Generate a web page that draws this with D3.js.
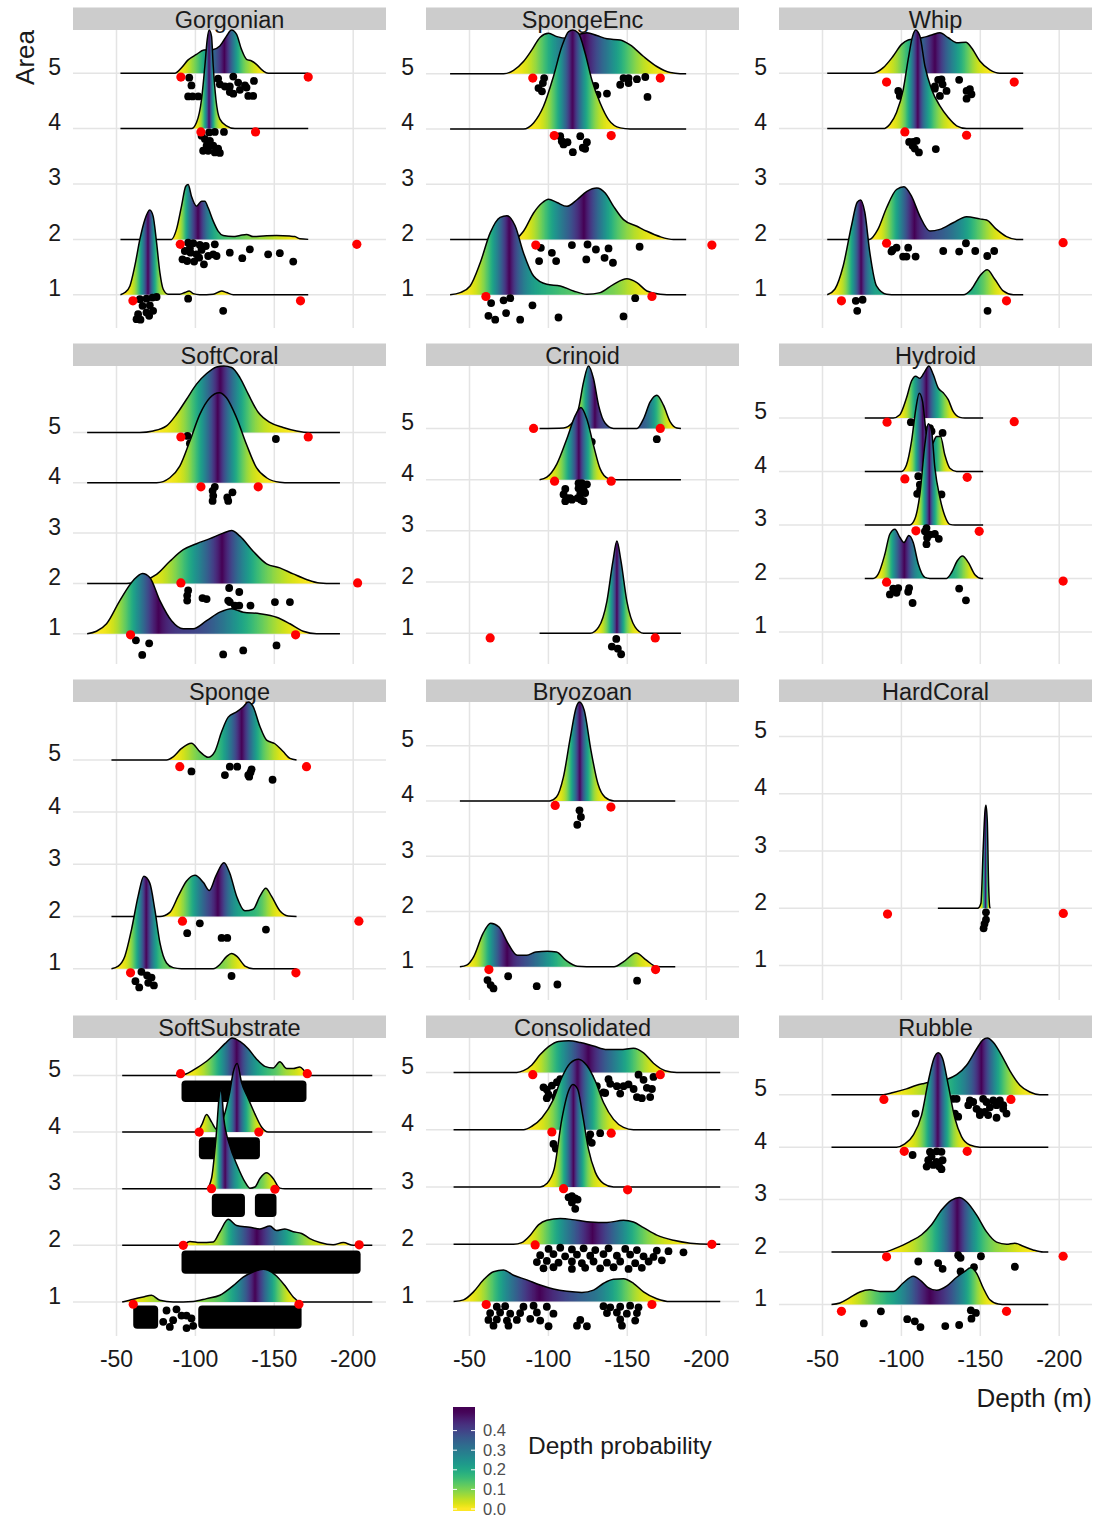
<!DOCTYPE html>
<html><head><meta charset="utf-8">
<script src="https://cdn.jsdelivr.net/npm/d3@7"></script>
<style>body{margin:0;background:#fff;} svg text{font-family:"Liberation Sans",Arial,sans-serif;}</style>
</head><body><svg id="chart" width="1107" height="1519"></svg>
<script>
const categories = ["Gorgonian","SpongeEnc","Whip","SoftCoral","Crinoid","Hydroid","Sponge","Bryozoan","HardCoral","SoftSubstrate","Consolidated","Rubble"];
const areaLevels = [1,2,3,4,5];
const depthTicks = [-50,-100,-150,-200];
const probTicks = [0,0.1,0.2,0.3,0.4];

// ---- Gorgonian ----
const gorgonianRange = [-52.5,-171.5];
const gorgonianRidges = [
 [5,[[-87.0,0],[-91.2,0.10],[-95.4,0.24],[-100.7,0.34],[-105.4,0.42],[-111.3,0.43],[-115.5,0.49],[-119.7,0.67],[-122.9,0.78],[-126.1,0.70],[-129.2,0.43],[-132.4,0.25],[-135.6,0.22],[-138.7,0.16],[-143.0,0.04],[-146.1,0]]],
 [4,[[-97.5,0],[-100.7,0.11],[-103.9,0.53],[-106.0,1.13],[-107.5,1.61],[-108.7,1.78],[-110.2,1.67],[-111.3,1.13],[-113.0,0.53],[-115.5,0.17],[-119.7,0.05],[-125.0,0]]],
 [2,[[-84.9,0],[-88.0,0.18],[-91.2,0.60],[-93.9,0.96],[-95.4,0.99],[-97.5,0.78],[-100.7,0.60],[-103.9,0.69],[-106.0,0.69],[-108.1,0.57],[-111.3,0.33],[-114.4,0.15],[-117.6,0.07],[-123.9,0.05],[-128.2,0.07],[-132.4,0.09],[-136.6,0.05],[-143.0,0.06],[-151.4,0.07],[-159.9,0.06],[-163.0,0.05],[-166.2,0.01]]],
 [1,[[-55.3,0.04],[-58.5,0.16],[-61.6,0.52],[-64.8,1.00],[-68.0,1.36],[-71.1,1.53],[-73.2,1.42],[-75.4,0.94],[-77.5,0.40],[-79.6,0.10],[-82.7,0.01],[-90.1,0.01],[-93.3,0.04],[-96.1,0.07],[-98.6,0.02],[-102.8,0],[-111.3,0.01],[-116.6,0.07],[-119.7,0.04],[-124.0,0]]]
];
const gorgonianRed = [[-90.8,4.93],[-171.5,4.93],[-103.5,3.94],[-138.1,3.94],[-90.4,1.91],[-202.3,1.91],[-60.4,0.89],[-166.6,0.89]];
const gorgonianObs = [[-96.1,4.92],[-97.5,4.78],[-95.4,4.58],[-98.2,4.58],[-101.8,4.58],[-114.4,4.90],[-115.5,4.80],[-118.7,4.76],[-121.8,4.76],[-124.0,4.94],[-127.1,4.83],[-124.0,4.63],[-121.8,4.66],[-128.2,4.70],[-133.5,4.59],[-136.6,4.59],[-137.1,4.86],[-132.4,4.74],[-131.4,4.78],
 [-103.9,3.87],[-108.7,3.93],[-112.3,3.94],[-118.1,3.94],[-106.0,3.81],[-109.2,3.78],[-107.1,3.69],[-111.3,3.69],[-104.9,3.60],[-108.1,3.60],[-112.3,3.57],[-115.5,3.56],[-114.4,3.64],
 [-95.4,1.94],[-98.6,1.93],[-102.8,1.90],[-106.6,1.88],[-112.3,1.91],[-93.3,1.79],[-96.9,1.76],[-100.7,1.73],[-103.9,1.81],[-108.1,1.70],[-113.4,1.70],[-91.8,1.64],[-94.8,1.61],[-99.2,1.60],[-105.4,1.55],[-111.3,1.73],[-121.8,1.76],[-129.7,1.66],[-134.5,1.82],[-146.1,1.73],[-153.5,1.75],[-162.0,1.60],[-102.4,1.67],[-96.5,1.84],
 [-64.8,0.92],[-69.0,0.93],[-72.8,0.95],[-75.4,0.96],[-66.5,0.80],[-71.1,0.81],[-63.7,0.65],[-69.0,0.68],[-73.2,0.71],[-62.7,0.56],[-65.2,0.55],[-70.7,0.62],[-95.4,0.93],[-117.6,0.71]];

// ---- SpongeEnc ----
const spongeEncRange = [-37.7,-187.3];
const spongeEncRidges = [
 [5,[[-71.6,0],[-77.9,0.06],[-84.2,0.22],[-89.5,0.43],[-94.8,0.66],[-100.1,0.73],[-105.4,0.67],[-111.7,0.64],[-118.1,0.70],[-124.4,0.74],[-130.7,0.69],[-137.1,0.63],[-145.5,0.61],[-151.8,0.52],[-160.3,0.31],[-168.7,0.13],[-177.2,0.02],[-183.5,0]]],
 [4,[[-84.2,0],[-90.6,0.11],[-96.9,0.41],[-103.2,0.95],[-108.5,1.49],[-112.8,1.76],[-115.5,1.79],[-119.1,1.73],[-123.3,1.37],[-127.5,0.89],[-132.8,0.47],[-138.1,0.17],[-145.5,0.02],[-151.8,0]]],
 [2,[[-77.9,0],[-84.2,0.15],[-90.6,0.48],[-95.9,0.66],[-100.1,0.73],[-105.4,0.67],[-111.7,0.60],[-118.1,0.72],[-124.4,0.87],[-130.7,0.93],[-136.0,0.84],[-141.3,0.60],[-147.6,0.36],[-156.1,0.24],[-162.4,0.15],[-170.9,0.05],[-179.3,0]]],
 [1,[[-44.1,0.04],[-50.4,0.16],[-56.8,0.58],[-63.1,1.12],[-69.4,1.40],[-73.7,1.43],[-78.9,1.25],[-84.2,0.76],[-90.6,0.34],[-99.0,0.19],[-107.5,0.16],[-115.9,0.07],[-124.4,0.01],[-132.8,0.04],[-141.3,0.19],[-149.7,0.29],[-156.1,0.22],[-162.4,0.07],[-170.9,0.01],[-179.3,0]]]
];
const spongeEncRed = [[-90.1,4.92],[-170.9,4.92],[-103.7,3.88],[-139.8,3.88],[-92.0,1.90],[-203.6,1.90],[-60.4,0.97],[-165.6,0.97]];
const spongeEncObs = [[-97.3,4.92],[-96.5,4.83],[-93.7,4.74],[-95.9,4.68],[-129.7,4.78],[-131.1,4.62],[-137.1,4.64],[-145.5,4.80],[-147.6,4.92],[-150.8,4.92],[-150.8,4.83],[-156.1,4.90],[-161.4,4.94],[-162.8,4.58],
 [-107.5,3.87],[-108.5,3.78],[-109.6,3.72],[-112.1,3.76],[-115.5,3.58],[-120.2,3.87],[-121.8,3.66],[-124.4,3.76],[-123.3,3.64],
 [-95.2,1.85],[-102.2,1.76],[-94.1,1.61],[-104.9,1.61],[-114.9,1.90],[-124.8,1.91],[-130.1,1.82],[-138.1,1.84],[-124.0,1.64],[-135.6,1.67],[-140.9,1.58],[-157.8,1.87],
 [-63.7,0.85],[-71.6,0.90],[-75.8,0.94],[-62.0,0.62],[-66.3,0.55],[-73.2,0.67],[-82.1,0.55],[-89.9,0.81],[-106.4,0.59],[-147.6,0.61],[-155.0,0.94]];

// ---- Whip ----
const whipRange = [-53.0,-177.2];
const whipRidges = [
 [5,[[-82.1,0],[-88.5,0.10],[-94.8,0.31],[-100.1,0.52],[-104.3,0.60],[-109.0,0.62],[-113.0,0.64],[-115.9,0.66],[-120.0,0.70],[-124.4,0.73],[-129.7,0.64],[-135.0,0.55],[-140.9,0.56],[-144.4,0.46],[-149.7,0.22],[-156.1,0.06],[-162.4,0]]],
 [4,[[-88.5,0],[-92.7,0.08],[-96.9,0.29],[-101.2,0.71],[-104.3,1.25],[-107.1,1.67],[-109.0,1.78],[-111.7,1.67],[-114.9,1.13],[-119.1,0.71],[-124.4,0.41],[-129.7,0.20],[-135.0,0.05],[-141.3,0]]],
 [2,[[-79.8,0],[-85.1,0.18],[-90.6,0.57],[-96.9,0.90],[-101.6,0.95],[-106.4,0.78],[-111.7,0.42],[-118.1,0.15],[-124.4,0.18],[-132.8,0.30],[-141.3,0.41],[-149.7,0.37],[-154.0,0.35],[-160.3,0.18],[-166.6,0.05],[-173.0,0]]],
 [1,[[-57.8,0.10],[-63.1,0.52],[-68.4,1.25],[-72.0,1.67],[-74.1,1.71],[-76.8,1.49],[-80.0,0.76],[-84.2,0.16],[-90.6,0.01],[-96.9,0],[-139.2,0],[-144.4,0.10],[-149.7,0.34],[-154.4,0.45],[-159.2,0.28],[-164.5,0.07],[-170.9,0]]]
];
const whipRed = [[-90.6,4.84],[-171.5,4.84],[-102.2,3.94],[-141.3,3.88],[-90.6,1.93],[-202.5,1.94],[-62.0,0.89],[-166.6,0.89]];
const whipObs = [[-98.0,4.68],[-99.0,4.59],[-121.2,4.72],[-123.3,4.88],[-125.4,4.89],[-126.1,4.80],[-128.6,4.68],[-124.4,4.59],[-136.6,4.88],[-141.3,4.68],[-143.4,4.71],[-144.4,4.62],[-141.3,4.54],[-121.2,4.76],
 [-104.9,3.76],[-107.5,3.76],[-109.6,3.78],[-107.1,3.69],[-108.5,3.64],[-111.1,3.57],[-121.8,3.63],
 [-94.4,1.81],[-96.9,1.85],[-104.3,1.85],[-93.7,1.78],[-101.1,1.69],[-103.2,1.69],[-109.0,1.69],[-126.5,1.79],[-136.6,1.78],[-140.9,1.93],[-146.8,1.79],[-154.4,1.70],[-158.8,1.79],
 [-71.1,0.89],[-75.4,0.91],[-72.0,0.71],[-154.6,0.71]];

// ---- SoftCoral ----
const softCoralRange = [-31.4,-191.6];
const softCoralRidges = [
 [5,[[-64.8,0],[-73.2,0.03],[-81.7,0.13],[-88.0,0.36],[-94.4,0.66],[-100.7,0.96],[-107.1,1.17],[-113.4,1.30],[-118.0,1.32],[-122.9,1.29],[-128.2,1.09],[-133.5,0.76],[-139.8,0.40],[-147.2,0.20],[-155.6,0.10],[-164.1,0.03],[-172.5,0]]],
 [4,[[-75.4,0],[-83.8,0.10],[-90.1,0.33],[-96.5,0.83],[-102.8,1.36],[-109.2,1.69],[-115.1,1.79],[-119.7,1.69],[-126.1,1.29],[-132.4,0.76],[-138.7,0.30],[-145.1,0.10],[-153.5,0.01],[-159.9,0]]],
 [2,[[-56.3,0],[-66.9,0.05],[-75.4,0.18],[-83.8,0.44],[-92.3,0.67],[-100.7,0.79],[-109.2,0.89],[-117.6,1.00],[-122.9,1.05],[-128.2,0.94],[-136.6,0.64],[-145.1,0.39],[-153.5,0.31],[-162.0,0.19],[-170.4,0.08],[-178.8,0.01],[-187.3,0]]],
 [1,[[-37.3,0.05],[-43.7,0.20],[-52.1,0.66],[-60.6,1.06],[-66.5,1.20],[-71.1,1.12],[-77.5,0.66],[-84.9,0.26],[-92.3,0.10],[-98.6,0.10],[-107.1,0.26],[-115.5,0.43],[-122.9,0.50],[-130.3,0.43],[-140.9,0.40],[-151.4,0.33],[-159.9,0.20],[-168.3,0.05],[-176.8,0]]]
];
const softCoralRed = [[-90.8,4.91],[-171.5,4.91],[-103.5,3.92],[-139.8,3.92],[-90.8,2.01],[-202.8,2.01],[-58.9,0.98],[-163.5,0.98]];
const softCoralObs = [[-95.0,4.93],[-96.5,4.78],[-97.5,4.74],[-151.0,4.87],
 [-112.3,3.92],[-110.9,3.84],[-111.3,3.74],[-110.9,3.64],[-120.8,3.64],[-123.5,3.81],[-120.2,3.71],
 [-95.4,1.86],[-94.8,1.76],[-94.8,1.66],[-104.5,1.71],[-107.1,1.69],[-121.4,1.91],[-127.8,1.83],[-120.8,1.66],[-121.8,1.63],[-125.0,1.56],[-127.8,1.56],[-134.9,1.56],[-150.4,1.63],[-159.9,1.63],
 [-62.3,0.87],[-70.7,0.81],[-66.3,0.58],[-117.6,0.59],[-130.3,0.67],[-151.4,0.77]];

// ---- Crinoid ----
const crinoidRange = [-94.4,-184.0];
const crinoidRidges = [
 [5,[[-109.6,0.01],[-114.9,0.10],[-119.1,0.39],[-122.3,0.91],[-125.4,1.22],[-128.6,0.97],[-131.8,0.45],[-136.0,0.10],[-141.3,0],[-156.1,0],[-160.3,0.19],[-164.5,0.52],[-168.7,0.65],[-173.0,0.45],[-177.2,0.13],[-181.4,0.01]]],
 [4,[[-99.0,0.05],[-105.4,0.31],[-111.7,0.80],[-117.0,1.25],[-120.6,1.41],[-124.4,1.18],[-128.6,0.67],[-132.8,0.21],[-138.1,0.02],[-143.4,0]]],
 [1,[[-126.5,0],[-131.8,0.12],[-137.1,0.63],[-140.9,1.41],[-143.4,1.80],[-146.0,1.41],[-149.7,0.63],[-155.0,0.12],[-160.3,0]]]
];
const crinoidRed = [[-90.6,5.0],[-170.9,5.0],[-103.9,3.97],[-139.8,3.97],[-63.1,0.91],[-167.7,0.91]];
const crinoidObs = [[-168.7,4.79],[-127.5,4.74],
 [-110.7,3.82],[-109.6,3.71],[-111.7,3.64],[-110.7,3.58],[-114.9,3.61],[-119.1,3.93],[-121.2,3.93],[-124.4,3.91],[-119.1,3.83],[-122.3,3.80],[-120.2,3.72],[-123.3,3.74],[-120.6,3.61],[-122.3,3.58],[-118.5,3.64],[-113.8,3.64],
 [-143.0,0.89],[-140.2,0.74],[-144.0,0.70],[-146.1,0.59]];

// ---- Hydroid ----
const hydroidRange = [-76.8,-151.8];
const hydroidRidges = [
 [5,[[-94.8,0],[-99.0,0.06],[-103.2,0.37],[-106.4,0.69],[-109.0,0.78],[-111.7,0.74],[-114.9,0.87],[-117.4,0.97],[-120.2,0.81],[-123.3,0.56],[-126.5,0.47],[-129.7,0.34],[-132.8,0.12],[-137.1,0.01],[-140.2,0]]],
 [4,[[-100.1,0],[-103.2,0.12],[-106.4,0.56],[-109.2,1.18],[-111.3,1.46],[-113.4,1.31],[-115.9,0.69],[-119.1,0.50],[-122.3,0.65],[-124.8,0.65],[-127.5,0.31],[-130.7,0.06],[-135.0,0]]],
 [3,[[-105.4,0],[-108.5,0.11],[-111.7,0.57],[-114.9,1.51],[-117.0,1.89],[-119.1,1.76],[-121.2,1.07],[-124.4,0.51],[-127.5,0.17],[-130.7,0.01],[-133.9,0]]],
 [2,[[-82.1,0],[-85.3,0.08],[-89.5,0.45],[-92.7,0.83],[-95.9,0.92],[-99.0,0.77],[-101.6,0.67],[-104.7,0.80],[-107.5,0.67],[-110.7,0.27],[-114.9,0.02],[-118.1,0],[-128.6,0],[-131.8,0.11],[-135.4,0.33],[-138.7,0.42],[-142.4,0.30],[-146.6,0.07],[-150.8,0]]]
];
const hydroidRed = [[-90.9,4.92],[-171.5,4.93],[-102.2,3.86],[-141.7,3.89],[-109.2,2.89],[-149.3,2.88],[-90.6,1.93],[-202.5,1.95]];
const hydroidObs = [[-106.0,4.92],[-118.1,4.81],[-119.1,4.75],[-126.1,4.72],
 [-110.7,3.91],[-111.7,3.75],[-110.0,3.58],[-125.4,3.57],[-111.9,3.66],
 [-115.9,2.94],[-118.1,2.82],[-116.3,2.76],[-115.9,2.64],[-121.2,2.83],[-123.7,2.74],[-114.9,2.88],
 [-92.7,1.70],[-94.8,1.81],[-96.9,1.76],[-98.0,1.82],[-96.9,1.73],[-104.9,1.82],[-104.3,1.75],[-107.1,1.54],[-136.6,1.81],[-140.9,1.59]];

// ---- Sponge ----
const spongeRange = [-46.8,-164.1];
const spongeRidges = [
 [5,[[-81.7,0],[-85.9,0.06],[-91.2,0.22],[-97.5,0.32],[-102.8,0.16],[-108.1,0.05],[-112.3,0.16],[-116.6,0.54],[-120.8,0.82],[-126.1,0.92],[-130.3,1.02],[-133.5,1.11],[-136.6,1.02],[-140.9,0.64],[-145.1,0.38],[-150.4,0.31],[-155.6,0.16],[-159.9,0.03]]],
 [2,[[-77.5,0],[-83.8,0.08],[-89.1,0.39],[-94.4,0.68],[-99.7,0.79],[-105.1,0.65],[-108.8,0.50],[-113.0,0.78],[-118.1,1.03],[-121.8,0.83],[-126.1,0.39],[-131.4,0.11],[-136.6,0.14],[-140.9,0.39],[-144.6,0.54],[-148.2,0.39],[-153.5,0.11],[-158.8,0.01]]],
 [1,[[-51.1,0.05],[-55.3,0.24],[-59.5,0.75],[-63.7,1.39],[-67.3,1.77],[-71.1,1.64],[-74.3,1.13],[-77.5,0.50],[-81.7,0.11],[-85.9,0.02],[-91.2,0],[-111.3,0],[-115.5,0.08],[-119.7,0.23],[-122.9,0.29],[-126.5,0.23],[-131.4,0.05],[-136.6,0]]]
];
const spongeRed = [[-90.1,4.87],[-170.4,4.87],[-91.8,1.91],[-203.6,1.91],[-58.9,0.92],[-163.7,0.92]];
const spongeObs = [[-97.5,4.78],[-118.7,4.71],[-121.8,4.87],[-126.5,4.87],[-133.5,4.71],[-134.9,4.76],[-135.6,4.82],[-148.9,4.62],[-134.1,4.68],
 [-102.8,1.87],[-94.8,1.68],[-116.6,1.59],[-120.2,1.59],[-144.7,1.75],
 [-65.8,0.94],[-69.4,0.87],[-72.2,0.83],[-62.0,0.76],[-70.1,0.73],[-64.4,0.64],[-73.7,0.68],[-122.9,0.86]];

// ---- Bryozoan ----
const bryozoanRange = [-43.9,-180.4];
const bryozoanRidges = [
 [4,[[-100.8,0],[-105.1,0.07],[-109.5,0.43],[-113.9,1.15],[-117.7,1.70],[-119.7,1.79],[-122.7,1.64],[-127.0,0.91],[-131.4,0.31],[-135.8,0.07],[-141.6,0]]],
 [1,[[-48.2,0.03],[-52.6,0.18],[-58.5,0.60],[-63.4,0.79],[-68.7,0.72],[-74.5,0.42],[-80.3,0.21],[-86.2,0.21],[-92.0,0.27],[-99.3,0.28],[-105.1,0.27],[-111.0,0.12],[-118.3,0.01],[-130.0,0],[-141.6,0],[-147.5,0.09],[-155.6,0.25],[-162.1,0.12],[-167.9,0.01],[-173.7,0]]]
];
const bryozoanRed = [[-104.3,3.92],[-139.6,3.89],[-62.3,0.95],[-167.9,0.95]];
const bryozoanObs = [[-119.7,3.83],[-120.6,3.71],[-118.3,3.57],[-61.4,0.76],[-63.4,0.67],[-65.2,0.61],[-74.5,0.83],[-92.6,0.65],[-105.7,0.68],[-156.2,0.75]];

// ---- HardCoral ----
const hardCoralRange = [-123.1,-156.4];
const hardCoralRidges = [
 [2,[[-148.3,0],[-150.4,0.09],[-151.8,1.02],[-153.0,1.71],[-153.6,1.80],[-154.4,1.54],[-155.3,0.38],[-156.0,0.02]]]
];
const hardCoralRed = [[-91.2,1.90],[-202.6,1.91]];
const hardCoralObs = [[-153.6,1.93],[-153.6,1.80],[-152.7,1.73],[-152.1,1.65]];

// ---- SoftSubstrate ----
const softSubstrateRange = [-53.6,-212.1];
const softSubstrateRidges = [
 [5,[[-90.1,0],[-94.4,0.03],[-100.7,0.13],[-107.1,0.25],[-113.4,0.41],[-118.7,0.56],[-123.3,0.66],[-128.2,0.60],[-133.5,0.47],[-138.7,0.29],[-144.0,0.16],[-149.3,0.13],[-153.5,0.24],[-157.8,0.12],[-162.0,0.12],[-166.2,0.15],[-169.4,0.07],[-172.5,0]]],
 [4,[[-100.7,0],[-103.9,0.12],[-107.1,0.31],[-110.2,0.18],[-113.4,0.05],[-117.6,0.24],[-121.8,0.71],[-124.0,1.06],[-126.5,1.21],[-129.2,0.88],[-133.5,0.59],[-137.7,0.32],[-141.9,0.09],[-146.1,0]]],
 [3,[[-107.1,0],[-110.2,0.18],[-113.0,0.88],[-115.5,1.71],[-116.3,1.75],[-118.0,1.24],[-121.8,0.76],[-126.5,0.41],[-131.4,0.12],[-134.5,0.01],[-137.7,0.03],[-140.9,0.18],[-145.1,0.28],[-149.3,0.18],[-153.5,0.01],[-156.7,0]]],
 [2,[[-91.2,0],[-96.5,0.07],[-102.8,0.05],[-111.3,0.06],[-115.5,0.24],[-120.8,0.46],[-126.1,0.35],[-134.5,0.32],[-140.9,0.29],[-147.2,0.34],[-151.4,0.26],[-156.7,0.29],[-162.0,0.24],[-167.3,0.21],[-172.5,0.12],[-178.9,0.05],[-187.3,0.01],[-193.7,0.05],[-200.0,0]]],
 [1,[[-60.6,0.05],[-66.9,0.09],[-72.2,0.12],[-77.5,0.03],[-85.9,0],[-98.6,0.01],[-107.1,0.06],[-115.5,0.12],[-124.0,0.29],[-130.3,0.44],[-136.6,0.53],[-143.0,0.58],[-146.1,0.56],[-151.4,0.46],[-156.7,0.29],[-162.0,0.09],[-166.2,0]]]
];
const softSubstrateRed = [[-90.6,5.03],[-170.9,5.03],[-102.4,4.0],[-140.2,4.0],[-110.2,3.0],[-150.4,2.99],[-92.3,2.0],[-203.8,2.01],[-60.6,0.96],[-165.6,0.96]];
// dense overplotted observations: [depthFrom, depthTo, yTop, yBottom]
const softSubstrateBands = [[-91.2,-170.4,4.91,4.53],[-102.2,-140.9,3.91,3.52],[-110.4,-131.4,2.91,2.50],[-137.7,-151.4,2.91,2.50],[-91.2,-204.7,1.91,1.50],[-60.6,-76.4,0.94,0.53],[-101.8,-167.3,0.94,0.53]];
const softSubstrateObs = [[-81.7,0.85],[-88.0,0.87],[-91.2,0.76],[-85.9,0.68],[-94.4,0.76],[-97.5,0.71],[-83.8,0.56],[-94.4,0.54],[-98.6,0.58],[-79.6,0.65]];

// ---- Consolidated ----
const consolidatedRange = [-39.9,-208.9];
const consolidatedRidges = [
 [5,[[-80.0,0],[-84.2,0.03],[-89.5,0.13],[-94.8,0.31],[-100.1,0.45],[-106.4,0.54],[-112.8,0.55],[-120.2,0.52],[-128.6,0.46],[-137.1,0.40],[-145.5,0.40],[-153.9,0.42],[-160.3,0.34],[-166.6,0.16],[-174.0,0.03],[-181.4,0]]],
 [4,[[-84.2,0],[-89.5,0.06],[-95.9,0.21],[-103.2,0.53],[-108.5,0.91],[-113.8,1.16],[-119.1,1.23],[-124.4,1.12],[-129.7,0.85],[-135.0,0.47],[-141.3,0.18],[-147.6,0.04],[-153.9,0]]],
 [3,[[-94.8,0],[-99.0,0.06],[-103.7,0.32],[-108.5,1.18],[-112.8,1.68],[-115.5,1.79],[-118.5,1.71],[-121.8,1.24],[-125.4,0.66],[-129.7,0.26],[-135.0,0.06],[-141.3,0]]],
 [2,[[-77.9,0],[-83.1,0.03],[-88.5,0.16],[-93.7,0.34],[-99.0,0.42],[-107.5,0.45],[-118.1,0.42],[-126.5,0.39],[-137.1,0.38],[-147.6,0.42],[-153.9,0.39],[-160.3,0.29],[-168.7,0.16],[-179.3,0.07],[-189.9,0.02],[-202.5,0]]],
 [1,[[-46.2,0.03],[-52.5,0.17],[-58.9,0.38],[-65.2,0.52],[-71.6,0.55],[-77.9,0.46],[-86.4,0.38],[-94.8,0.29],[-103.2,0.22],[-111.7,0.18],[-121.2,0.16],[-128.6,0.20],[-135.0,0.32],[-141.3,0.39],[-147.6,0.40],[-153.9,0.32],[-160.3,0.17],[-168.7,0.05],[-177.2,0]]]
];
const consolidatedRed = [[-90.1,4.96],[-170.9,4.96],[-102.2,3.96],[-139.8,3.94],[-109.6,2.97],[-150.2,2.95],[-91.6,1.99],[-203.6,2.0],[-60.6,0.95],[-165.6,0.95]];
const consolidatedObs = [[-96.9,4.74],[-99.0,4.70],[-102.2,4.77],[-105.4,4.83],[-107.5,4.88],[-100.1,4.61],[-104.3,4.57],[-108.5,4.63],[-111.7,4.71],[-114.9,4.58],[-118.1,4.77],[-122.3,4.65],[-126.5,4.90],[-130.7,4.76],[-134.9,4.65],[-138.1,4.88],[-139.2,4.80],[-143.4,4.76],[-145.5,4.63],[-147.6,4.76],[-150.8,4.79],[-154.0,4.71],[-156.1,4.57],[-157.1,4.96],[-160.3,4.87],[-162.4,4.73],[-165.6,4.71],[-166.6,4.92],[-159.2,4.55],[-164.5,4.57],[-136.0,4.64],[-99.0,4.55],[-109.6,4.77],[-105.4,4.64],
 [-126.5,3.92],[-132.8,3.94],[-125.4,3.83],[-127.5,3.77],[-103.2,3.75],[-104.7,3.67],[-110.0,3.80],[-116.0,3.72],
 [-112.8,2.82],[-114.9,2.84],[-117.0,2.80],[-114.9,2.73],[-118.5,2.78],[-117.0,2.62],
 [-100.1,1.92],[-107.5,1.94],[-114.9,1.91],[-122.3,1.93],[-129.7,1.90],[-138.1,1.93],[-148.7,1.92],[-156.1,1.90],[-168.7,1.89],[-176.1,1.88],[-185.6,1.86],
 [-94.8,1.81],[-103.2,1.83],[-110.6,1.79],[-118.1,1.82],[-126.5,1.80],[-134.9,1.83],[-143.4,1.80],[-151.8,1.82],[-160.3,1.79],[-166.6,1.78],
 [-92.7,1.69],[-99.0,1.71],[-106.4,1.68],[-114.9,1.70],[-121.2,1.67],[-128.6,1.70],[-137.1,1.68],[-145.5,1.70],[-155.0,1.67],[-163.5,1.70],[-171.9,1.72],
 [-96.9,1.58],[-103.2,1.60],[-114.9,1.57],[-123.3,1.59],[-132.8,1.58],[-141.3,1.60],[-150.8,1.57],[-159.2,1.59],
 [-67.3,0.91],[-72.6,0.92],[-84.2,0.91],[-90.6,0.93],[-99.0,0.91],[-134.9,0.92],[-139.2,0.90],[-145.5,0.91],[-151.8,0.93],[-157.1,0.90],
 [-63.1,0.80],[-69.4,0.81],[-75.8,0.79],[-82.1,0.80],[-92.7,0.81],[-103.2,0.79],[-137.1,0.80],[-143.4,0.81],[-149.7,0.79],[-156.1,0.80],
 [-62.0,0.68],[-67.3,0.69],[-73.7,0.67],[-80.0,0.68],[-88.5,0.70],[-94.8,0.67],[-120.2,0.68],[-145.5,0.69],[-155.0,0.67],
 [-65.2,0.58],[-74.7,0.58],[-100.1,0.57],[-118.1,0.58],[-124.4,0.57],[-146.6,0.58]];

// ---- Rubble ----
const rubbleRange = [-55.7,-193.1];
const rubbleRidges = [
 [5,[[-88.5,0],[-94.8,0.04],[-103.2,0.11],[-109.6,0.18],[-113.8,0.21],[-121.0,0.25],[-128.6,0.29],[-135.0,0.38],[-141.3,0.56],[-147.6,0.87],[-151.8,1.05],[-154.4,1.08],[-158.2,1.00],[-163.5,0.75],[-168.7,0.46],[-175.1,0.18],[-181.4,0.05],[-187.7,0]]],
 [4,[[-96.9,0],[-102.2,0.06],[-107.5,0.23],[-112.8,0.61],[-117.0,1.25],[-120.6,1.69],[-123.3,1.80],[-126.1,1.69],[-129.7,1.18],[-133.9,0.55],[-138.1,0.20],[-143.4,0.04],[-149.7,0]]],
 [2,[[-88.5,0],[-96.9,0.08],[-105.4,0.20],[-112.8,0.33],[-119.1,0.52],[-125.4,0.80],[-131.8,0.99],[-136.6,1.04],[-141.3,0.96],[-147.6,0.71],[-153.9,0.39],[-160.3,0.19],[-166.6,0.15],[-171.9,0.17],[-177.2,0.11],[-183.5,0.04],[-189.9,0]]],
 [1,[[-61.0,0.03],[-67.3,0.13],[-73.7,0.24],[-80.0,0.28],[-86.4,0.25],[-94.8,0.25],[-101.1,0.41],[-107.5,0.54],[-112.8,0.44],[-117.0,0.32],[-122.3,0.27],[-128.6,0.35],[-135.0,0.52],[-140.2,0.63],[-143.8,0.70],[-147.6,0.60],[-151.8,0.32],[-156.1,0.09],[-161.4,0.01],[-166.6,0]]]
];
const rubbleRed = [[-88.9,4.91],[-169.4,4.91],[-101.8,3.92],[-141.7,3.92],[-90.6,1.91],[-202.5,1.92],[-62.0,0.87],[-166.6,0.87]];
const rubbleObs = [[-109.0,4.64],[-132.8,4.92],[-135.0,4.92],[-133.9,4.64],[-136.0,4.58],[-145.5,4.86],[-147.6,4.73],[-149.7,4.67],[-151.8,4.92],[-153.9,4.86],[-156.1,4.76],[-158.2,4.89],[-160.3,4.80],[-162.4,4.89],[-164.5,4.80],[-166.6,4.64],[-160.3,4.56],[-149.7,4.61],[-152.9,4.67],[-142.4,4.80],[-143.4,4.89],[-155.0,4.61],[-164.5,4.73],
 [-107.1,3.85],[-118.1,3.91],[-119.1,3.82],[-117.0,3.75],[-122.3,3.92],[-125.4,3.91],[-122.3,3.72],[-124.0,3.63],[-116.0,3.63],[-120.2,3.66],[-125.4,3.58],[-126.1,3.75],
 [-110.7,1.82],[-123.3,1.79],[-126.1,1.68],[-136.0,1.94],[-137.5,1.89],[-137.5,1.63],[-146.0,1.71],[-150.4,1.92],[-171.9,1.72],
 [-87.0,0.87],[-76.2,0.64],[-103.7,0.72],[-108.5,0.68],[-112.1,0.57],[-127.8,0.59],[-136.6,0.61],[-144.0,0.89],[-147.2,0.84],[-144.4,0.73]];

// ---- build table ----
const panelRanges = [gorgonianRange,spongeEncRange,whipRange,softCoralRange,crinoidRange,hydroidRange,spongeRange,bryozoanRange,hardCoralRange,softSubstrateRange,consolidatedRange,rubbleRange];
const panelRidges = [gorgonianRidges,spongeEncRidges,whipRidges,softCoralRidges,crinoidRidges,hydroidRidges,spongeRidges,bryozoanRidges,hardCoralRidges,softSubstrateRidges,consolidatedRidges,rubbleRidges];
const panelRed = [gorgonianRed,spongeEncRed,whipRed,softCoralRed,crinoidRed,hydroidRed,spongeRed,bryozoanRed,hardCoralRed,softSubstrateRed,consolidatedRed,rubbleRed];
const panelObs = [gorgonianObs,spongeEncObs,whipObs,softCoralObs,crinoidObs,hydroidObs,spongeObs,bryozoanObs,hardCoralObs,softSubstrateObs,consolidatedObs,rubbleObs];
const panelBands = categories.map(c => c === "SoftSubstrate" ? softSubstrateBands : []);
const panels = categories.map((name,i)=>({name, range:panelRanges[i], ridges:panelRidges[i], red:panelRed[i], obs:panelObs[i], bands:panelBands[i]}));

// ---- layout ----
const W = 1107, H = 1519;
const colLeft = [73,426,779], rowTop = [30,366,702,1038];
const panelW = 313, panelH = 298, stripH = 22.5;
const gridColor = "#e4e4e4", textColor = "#1a1a1a";

const svg = d3.select("#chart");
svg.append("rect").attr("width",W).attr("height",H).attr("fill","#fff");
const defs = svg.append("defs");
const x = d3.scaleLinear().domain([-50,-200]).range([43.5,280.2]);
const fillColor = p => d3.interpolateViridis(1 - Math.max(0,Math.min(0.5,p))/0.5);

panels.forEach((p,i)=>{
  const col = i%3, row = Math.floor(i/3);
  const left = colLeft[col], top = rowTop[row];
  const hi = Math.max(5.6, d3.max(p.ridges, r => r[0] + d3.max(r[1], d=>d[1])));
  const y = d3.scaleLinear().domain([0.4,hi]).range([panelH,0]);

  // strip
  svg.append("rect").attr("x",left).attr("y",top-stripH).attr("width",panelW).attr("height",stripH).attr("fill","#cccccc");
  svg.append("text").attr("x",left+panelW/2).attr("y",top-2).attr("text-anchor","middle")
     .attr("font-size",23.5).attr("fill",textColor).text(p.name);

  const g = svg.append("g").attr("transform",`translate(${left},${top})`);
  g.selectAll(".vg").data(depthTicks).join("line").attr("class","vg")
    .attr("x1",d=>x(d)).attr("x2",d=>x(d)).attr("y1",0).attr("y2",panelH)
    .attr("stroke",gridColor).attr("stroke-width",1.5);
  g.selectAll(".hg").data(areaLevels).join("line").attr("class","hg")
    .attr("x1",0).attr("x2",panelW).attr("y1",d=>y(d)).attr("y2",d=>y(d))
    .attr("stroke",gridColor).attr("stroke-width",1.5);
  // y tick labels
  g.selectAll(".yl").data(areaLevels).join("text").attr("class","yl")
    .attr("x",-12).attr("y",d=>y(d)+1.5).attr("text-anchor","end")
    .attr("font-size",23).attr("fill",textColor).text(d=>d);
  // x tick labels on bottom row
  if (row === 3) {
    g.selectAll(".xl").data(depthTicks).join("text").attr("class","xl")
      .attr("x",d=>x(d)).attr("y",panelH+31).attr("text-anchor","middle")
      .attr("font-size",23).attr("fill",textColor).text(d=>d);
  }

  defs.append("clipPath").attr("id","clip"+i).append("rect").attr("x",0).attr("y",-1).attr("width",panelW).attr("height",panelH+1);
  const pg = g.append("g").attr("clip-path",`url(#clip${i})`);
  const x0 = x(p.range[0]), x1 = x(p.range[1]);

  [5,4,3,2,1].forEach(area=>{
    const ridge = p.ridges.find(r=>r[0]===area);
    if (ridge) {
      let pts = ridge[1].map(([d,h])=>[x(d),h]).filter(q=>q[0]>x0+0.05 && q[0]<x1-0.05);
      pts = [[x0,0], ...pts, [x1,0]].sort((a,b)=>a[0]-b[0]);
      const px = pts.map(d=>d[0]), ph = pts.map(d=>d[1]);
      const hAt = xv => {
        const k = d3.bisectRight(px, xv);
        if (k<=0) return ph[0];
        if (k>=px.length) return ph[ph.length-1];
        const t = (xv-px[k-1])/(px[k]-px[k-1]);
        return ph[k-1] + t*(ph[k]-ph[k-1]);
      };
      const N = 240;
      const hs = d3.range(N+1).map(j=>hAt(x0+(x1-x0)*j/N));
      const cum = [0];
      for (let j=1;j<=N;j++) cum[j] = cum[j-1] + (hs[j]+hs[j-1])/2;
      const tot = cum[N];
      const gid = `grad-${i}-${area}`;
      const grad = defs.append("linearGradient").attr("id",gid).attr("gradientUnits","userSpaceOnUse")
        .attr("x1",x0).attr("x2",x1).attr("y1",0).attr("y2",0);
      grad.selectAll("stop").data(d3.range(N+1)).join("stop")
        .attr("offset",j=>j/N)
        .attr("stop-color",j=>{ const F = cum[j]/tot; return fillColor(0.5 - Math.abs(0.5 - F)); });
      const areaGen = d3.area().x(d=>d[0]).y0(y(area)).y1(d=>y(area+d[1])).curve(d3.curveMonotoneX);
      const lineGen = d3.line().x(d=>d[0]).y(d=>y(area+d[1])).curve(d3.curveMonotoneX);
      pg.append("path").attr("d",areaGen(pts)).attr("fill",`url(#${gid})`);
      pg.append("path").attr("d",lineGen(pts)).attr("fill","none").attr("stroke","#000").attr("stroke-width",1.5).attr("stroke-linejoin","round");
    }
    // observations of this area
    const bands = p.bands.filter(b=>Math.ceil(b[2])===area);
    pg.selectAll(null).data(bands).join("rect")
      .attr("x",b=>Math.min(x(b[0]),x(b[1]))).attr("width",b=>Math.abs(x(b[1])-x(b[0])))
      .attr("y",b=>y(b[2])).attr("height",b=>y(b[3])-y(b[2]))
      .attr("rx",4).attr("fill","#000");
    const obs = p.obs.filter(o=>Math.ceil(o[1])===area);
    pg.selectAll(null).data(obs).join("circle")
      .attr("cx",o=>x(o[0])).attr("cy",o=>y(o[1])).attr("r",3.9).attr("fill","#000");
  });
  // red markers on top
  g.selectAll(".red").data(p.red).join("circle").attr("class","red")
    .attr("cx",d=>x(d[0])).attr("cy",d=>y(d[1])).attr("r",4.6).attr("fill","#ff0000");
});

// axis titles
svg.append("text").attr("transform","translate(34,30) rotate(-90)").attr("text-anchor","end")
  .attr("font-size",26).attr("fill",textColor).text("Area");
svg.append("text").attr("x",1092).attr("y",1407).attr("text-anchor","end")
  .attr("font-size",26).attr("fill",textColor).text("Depth (m)");

// legend
const barX = 453, barW = 22, barTop = 1407, barBot = 1511;
const ly = d3.scaleLinear().domain([0,0.5]).range([1509,1411]);
const lg = defs.append("linearGradient").attr("id","legendGrad").attr("gradientUnits","userSpaceOnUse")
  .attr("x1",0).attr("x2",0).attr("y1",barBot).attr("y2",barTop);
lg.selectAll("stop").data(d3.range(41)).join("stop")
  .attr("offset",j=>j/40)
  .attr("stop-color",j=>fillColor(ly.invert(barBot + (barTop-barBot)*j/40)));
svg.append("rect").attr("x",barX).attr("y",barTop).attr("width",barW).attr("height",barBot-barTop).attr("fill","url(#legendGrad)");
svg.selectAll(".ltk").data(probTicks).join("g").attr("class","ltk").each(function(v){
  const s = d3.select(this);
  s.append("line").attr("x1",barX).attr("x2",barX+4).attr("y1",ly(v)).attr("y2",ly(v)).attr("stroke","#fff").attr("stroke-width",1);
  s.append("line").attr("x1",barX+barW-4).attr("x2",barX+barW).attr("y1",ly(v)).attr("y2",ly(v)).attr("stroke","#fff").attr("stroke-width",1);
});
svg.selectAll(".ll").data(probTicks).join("text").attr("class","ll")
  .attr("x",483).attr("y",v=>ly(v)+5.5).attr("font-size",16.5).attr("fill","#4d4d4d").text(v=>v.toFixed(1));
svg.append("text").attr("x",528).attr("y",1454).attr("font-size",24.5).attr("fill",textColor).text("Depth probability");
</script>
</body></html>
